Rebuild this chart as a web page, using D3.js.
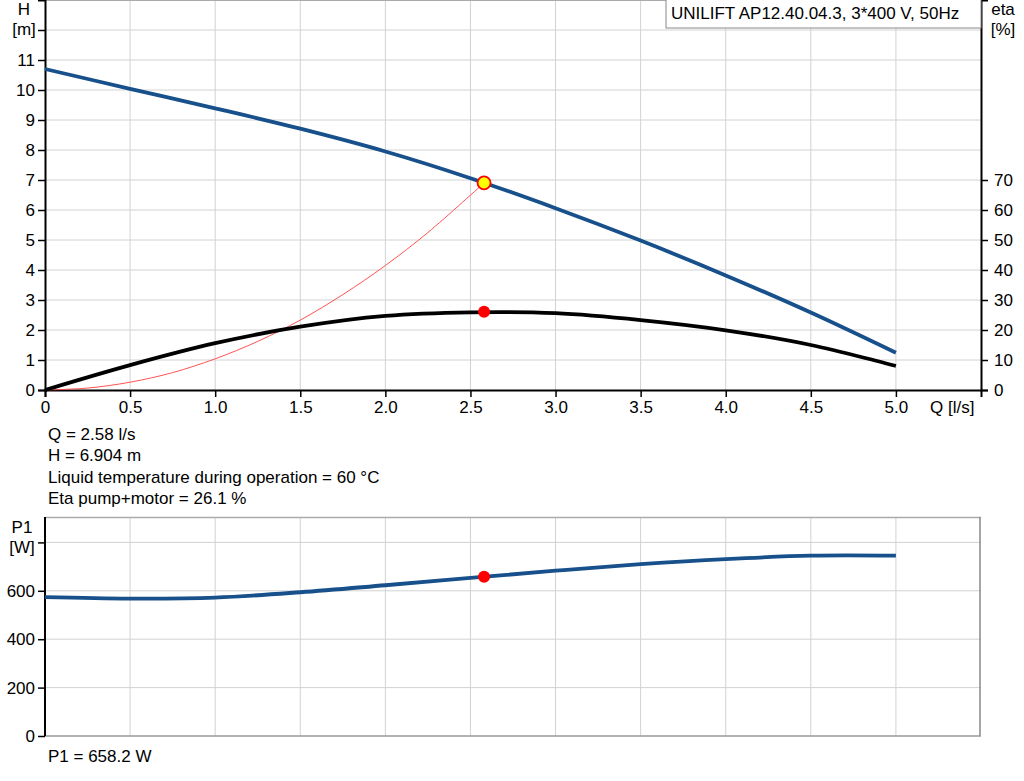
<!DOCTYPE html>
<html>
<head>
<meta charset="utf-8">
<script src="https://cdn.jsdelivr.net/npm/d3@7"></script>
<style>
  body { margin: 0; background: #fff; }
  svg { font-family: "Liberation Sans", Arial, sans-serif; font-size: 17px; }
</style>
</head>
<body>
<svg id="chart" width="1024" height="781"></svg>
<script>
// pump curves
const flowQ = [0, 0.5, 1.0, 1.5, 2.0, 2.5, 3.0, 3.5, 4.0, 4.5, 5.0];
const headH = [10.70, 10.04, 9.39, 8.71, 7.95, 7.06, 6.06, 4.98, 3.82, 2.58, 1.24];
const etaPct = [0, 8.3, 15.6, 21.1, 24.7, 25.9, 25.6, 23.3, 19.9, 15.0, 8.0];
const powerP1 = [574, 568, 572, 594, 623, 653, 683, 710, 731, 745, 745];

// system curve up to the duty point
const sysQ = [0, 0.25, 0.5, 0.75, 1.0, 1.25, 1.5, 1.75, 2.0, 2.25, 2.58];
const sysH = [0, 0.065, 0.26, 0.58, 1.04, 1.62, 2.33, 3.18, 4.15, 5.25, 6.904];

const duty = { q: 2.58, h: 6.904, eta: 26.1, p1: 658.2 };

const qTicks = [0, 0.5, 1.0, 1.5, 2.0, 2.5, 3.0, 3.5, 4.0, 4.5, 5.0];
const hTicks = [0, 1, 2, 3, 4, 5, 6, 7, 8, 9, 10, 11];
const etaTicks = [0, 10, 20, 30, 40, 50, 60, 70];
const pTicks = [0, 200, 400, 600];

const infoLines = [
  "Q = 2.58 l/s",
  "H = 6.904 m",
  "Liquid temperature during operation = 60 °C",
  "Eta pump+motor = 26.1 %"
];
const title = "UNILIFT AP12.40.04.3, 3*400 V, 50Hz";

const svg = d3.select("#chart");
const left = 45, right = 981;
const blue = "#17508a", grid = "#d2d2d2";
const font = "Liberation Sans, Arial, sans-serif";

const x = d3.scaleLinear().domain([0, 5.5]).range([left, right]);
const yH = d3.scaleLinear().domain([0, 13]).range([390, 0]);
const yEta = d3.scaleLinear().domain([0, 130]).range([390, 0]);
const yP = d3.scaleLinear().domain([0, 800]).range([736, 542.4]);

const gridQ = d3.range(0.5, 5.5, 0.5);

// ---------- top chart ----------
const topG = svg.append("g");

topG.selectAll(".vg").data(gridQ).enter().append("line")
  .attr("x1", d => x(d)).attr("x2", d => x(d))
  .attr("y1", 0).attr("y2", 390)
  .attr("stroke", grid);

topG.selectAll(".hg").data(d3.range(1, 13)).enter().append("line")
  .attr("x1", left).attr("x2", right)
  .attr("y1", d => yH(d)).attr("y2", d => yH(d))
  .attr("stroke", grid);

topG.append("line").attr("x1", left).attr("x2", right)
  .attr("y1", 0.5).attr("y2", 0.5).attr("stroke", "#aaa");

// axes
topG.append("g").attr("transform", `translate(${left},0)`)
  .call(d3.axisLeft(yH).tickValues(d3.range(0, 13)).tickSize(7).tickPadding(3)
    .tickFormat(d => hTicks.includes(d) ? d : ""));
topG.append("g").attr("transform", `translate(${right},0)`)
  .call(d3.axisRight(yEta).tickValues(etaTicks).tickSize(7).tickPadding(6));
topG.append("g").attr("transform", "translate(0,390)")
  .call(d3.axisBottom(x).tickValues(qTicks).tickSize(7).tickPadding(4)
    .tickFormat(d => d === 0 ? "0" : d.toFixed(1)));

svg.selectAll(".domain").attr("stroke", "#000").attr("stroke-width", 2);
svg.selectAll(".tick line").attr("stroke", "#000").attr("stroke-width", 1.5);
svg.selectAll(".tick text").attr("font-size", 17)
  .attr("font-family", font).attr("fill", "#000");

// curves
const lineH = d3.line().x((d, i) => x(flowQ[i])).y(d => yH(d)).curve(d3.curveCatmullRom);
const lineEta = d3.line().x((d, i) => x(flowQ[i])).y(d => yEta(d)).curve(d3.curveCatmullRom);
const lineSys = d3.line().x((d, i) => x(sysQ[i])).y(d => yH(d)).curve(d3.curveCatmullRom);

topG.append("path").attr("d", lineSys(sysH))
  .attr("fill", "none").attr("stroke", "#ff4040").attr("stroke-width", 0.9);
topG.append("path").attr("d", lineEta(etaPct))
  .attr("fill", "none").attr("stroke", "#000").attr("stroke-width", 3.8);
topG.append("path").attr("d", lineH(headH))
  .attr("fill", "none").attr("stroke", blue).attr("stroke-width", 3.8);

topG.append("circle").attr("cx", x(duty.q)).attr("cy", yH(duty.h)).attr("r", 6.5)
  .attr("fill", "#ffff00").attr("stroke", "#ff0000").attr("stroke-width", 1.8);
topG.append("circle").attr("cx", x(duty.q)).attr("cy", yEta(duty.eta)).attr("r", 6)
  .attr("fill", "#ff0000");

// labels
topG.append("text").attr("x", 24).attr("y", 15).attr("text-anchor", "middle").text("H");
topG.append("text").attr("x", 24).attr("y", 35).attr("text-anchor", "middle").text("[m]");
topG.append("text").attr("x", 1003).attr("y", 15).attr("text-anchor", "middle").text("eta");
topG.append("text").attr("x", 1003).attr("y", 35).attr("text-anchor", "middle").text("[%]");
topG.append("text").attr("x", 930).attr("y", 413).text("Q [l/s]");

topG.append("rect").attr("x", 666).attr("y", -1).attr("width", 315).attr("height", 29)
  .attr("fill", "#fff").attr("stroke", "#888");
topG.append("text").attr("x", 671).attr("y", 19).text(title);

svg.selectAll(".info").data(infoLines).enter().append("text")
  .attr("x", 48).attr("y", (d, i) => 440 + i * 21.3).text(d => d);

// ---------- bottom chart ----------
const botG = svg.append("g");

botG.selectAll(".vg").data(gridQ).enter().append("line")
  .attr("x1", d => x(d)).attr("x2", d => x(d))
  .attr("y1", 517).attr("y2", 736)
  .attr("stroke", grid);
botG.selectAll(".hg").data([200, 400, 600, 800]).enter().append("line")
  .attr("x1", left).attr("x2", right)
  .attr("y1", d => yP(d)).attr("y2", d => yP(d))
  .attr("stroke", grid);

botG.append("line").attr("x1", left).attr("x2", right).attr("y1", 517.5).attr("y2", 517.5)
  .attr("stroke", "#aaa").attr("stroke-width", 1.5);
botG.append("line").attr("x1", right - 1).attr("x2", right - 1).attr("y1", 517).attr("y2", 736)
  .attr("stroke", "#888").attr("stroke-width", 1.5);
botG.append("line").attr("x1", left).attr("x2", right).attr("y1", 736).attr("y2", 736)
  .attr("stroke", "#999").attr("stroke-width", 1.5);

const pAxis = botG.append("g").attr("transform", `translate(${left},0)`)
  .call(d3.axisLeft(yP).tickValues([0, 200, 400, 600, 800]).tickSize(7).tickPadding(3)
    .tickFormat(d => pTicks.includes(d) ? d : ""));
pAxis.select(".domain").attr("stroke", "#000").attr("stroke-width", 2)
  .attr("d", "M0,517V736");
pAxis.selectAll(".tick line").attr("stroke", "#000").attr("stroke-width", 1.5);
pAxis.selectAll(".tick text").attr("font-size", 17)
  .attr("font-family", font).attr("fill", "#000");

const lineP = d3.line().x((d, i) => x(flowQ[i])).y(d => yP(d)).curve(d3.curveCatmullRom);
botG.append("path").attr("d", lineP(powerP1))
  .attr("fill", "none").attr("stroke", blue).attr("stroke-width", 3.8);
botG.append("circle").attr("cx", x(duty.q)).attr("cy", yP(duty.p1)).attr("r", 6)
  .attr("fill", "#ff0000");

botG.append("text").attr("x", 22).attr("y", 533).attr("text-anchor", "middle").text("P1");
botG.append("text").attr("x", 22).attr("y", 553).attr("text-anchor", "middle").text("[W]");
botG.append("text").attr("x", 48).attr("y", 762).text("P1 = 658.2 W");
</script>
</body>
</html>
